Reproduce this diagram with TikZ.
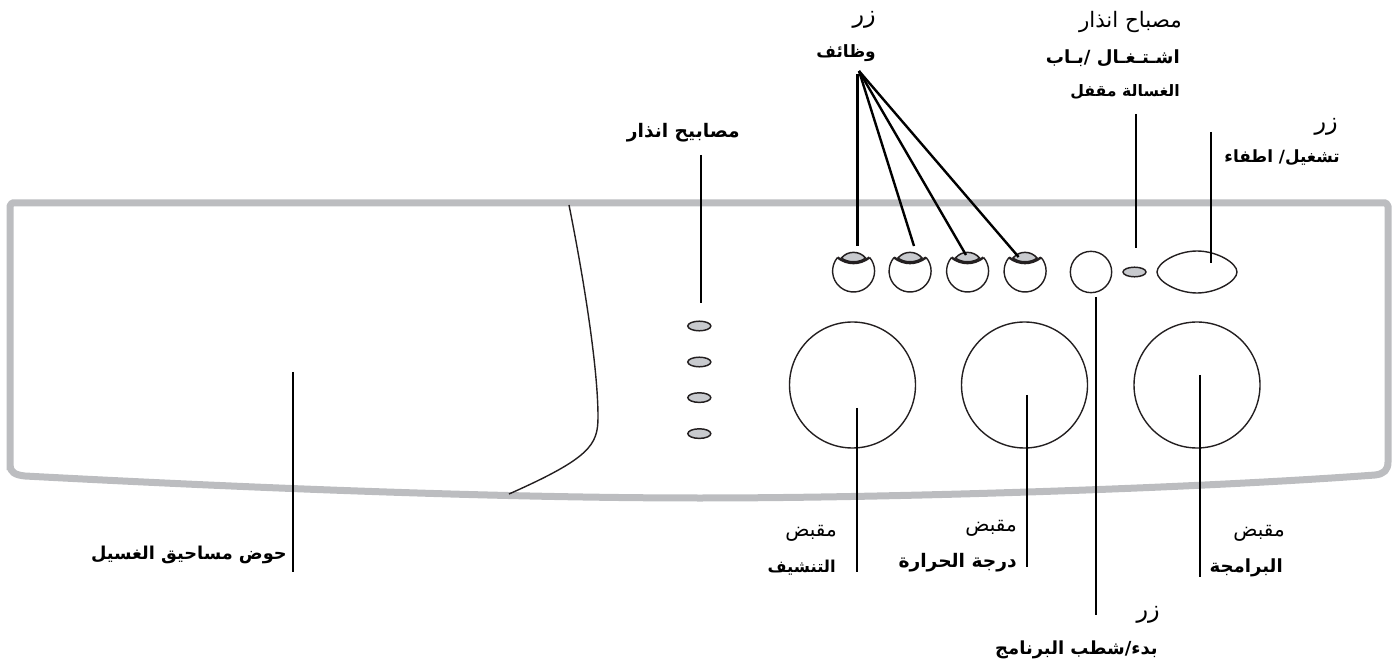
\documentclass[tikz,border=0pt]{standalone}
\usepackage{fontspec}
\TeXXeTstate=1
\newfontfamily\arabicfont[Script=Arabic]{DejaVu Sans}
\newcommand{\fsz}[1]{\fontsize{#1}{#1}\selectfont}
\tikzset{
  panelline/.style={draw=panelgray,line width=5.25pt,line join=round},
  thin outline/.style={draw=inkblack,line width=1.05pt},
  leader/.style={draw=black,line width=1.8pt},
  lamp/.style={draw=inkblack,fill=lampgray,line width=1.1pt},
  plain label/.style={anchor=east,inner sep=0pt,font=\arabicfont\fsz{#1}},
  bold label/.style={anchor=east,inner sep=0pt,font=\arabicfont\bfseries\fsz{#1}},
}
\definecolor{panelgray}{HTML}{BCBDC0}
\definecolor{lampgray}{HTML}{C8CACE}
\definecolor{inkblack}{HTML}{231F20}
\begin{document}
\begin{tikzpicture}[x=0.75pt,y=-0.75pt]
\useasboundingbox (0,0) rectangle (1399,666);
% panel
\draw[panelline] (10,470) -- (10,206) -- (12,203) -- (1386,203) -- (1388,206) -- (1388,462)
  .. controls (1388,470) and (1384,474) .. (1375,475)
  .. controls (1200,488) and (900,498) .. (700,498)
  .. controls (500,498) and (250,488) .. (25,476)
  .. controls (15,475) and (10,472) .. (10,465);
\draw[thin outline] (569,205) .. controls (585,285) and (598,370) .. (598,417)
  .. controls (598,445) and (590,458) .. (509,494);
% warning lamps
\foreach \n/\y in {a/326,b/362,c/397.6,d/433.6}
  \draw[lamp] (699.3,\y) ellipse (11.5 and 4.8);
\coordinate (wl) at (701,303);
% knobs
\node[thin outline,circle,minimum size=94.5pt,inner sep=0pt] (dry) at (852.5,385) {};
\node[thin outline,circle,minimum size=94.5pt,inner sep=0pt] (temp) at (1024.5,385) {};
\node[thin outline,circle,minimum size=94.5pt,inner sep=0pt] (prog) at (1197,385) {};
% function buttons
\foreach \n/\x in {f1/853.5,f2/910,f3/967.5,f4/1025}{
  \draw[thin outline] (\x-16,257.5) arc[start angle=140,end angle=400,radius=15.75pt];
  \coordinate (\n) at (\x,258);
  \draw[lamp] (\x-12,258) .. controls (\x-6,250.5) and (\x+6,250.5) .. (\x+12,258)
     .. controls (\x+6,263) and (\x-6,263) .. cycle;
  \draw[draw=inkblack,line width=1.8pt] (\x-16,257.5) .. controls (\x-6,265) and (\x+6,265) .. (\x+16,257.5);
}
% start button
\node[thin outline,circle,minimum size=31pt,inner sep=0pt] (start) at (1091,272) {};
% door lamp
\draw[lamp] (1134.5,272) ellipse (11.5 and 4.8);
% power button
\draw[thin outline] (1157,272) .. controls (1157,263) and (1177,251) .. (1197,251)
   .. controls (1217,251) and (1237,263) .. (1237,272)
   .. controls (1237,281) and (1217,293) .. (1197,293)
   .. controls (1177,293) and (1157,281) .. (1157,272) -- cycle;
% labels
\node[plain label=18] (l1a) at (876,20) {\beginR زر\endR};
\node[bold label=12.7] (l1b) at (876,53) {\beginR وظائف\endR};
\node[plain label=16] (l2a) at (1182,22) {\beginR مصباح انذار\endR};
\node[bold label=13.6] (l2b) at (1180,58) {\beginR اشـتـغـال /بـاب\endR};
\node[bold label=11.8] (l2c) at (1180,92) {\beginR الغسالة مقفل\endR};
\node[plain label=18] (l3a) at (1338,127) {\beginR زر\endR};
\node[bold label=12.6] (l3b) at (1340,158) {\beginR تشغيل/ اطفاء\endR};
\node[bold label=14] (l4) at (740,133) {\beginR مصابيح انذار\endR};
\node[bold label=13.3] (l5) at (287,555) {\beginR حوض مساحيق الغسيل\endR};
\node[plain label=15] (l6a) at (837,533) {\beginR مقبض\endR};
\node[bold label=12.3] (l6b) at (836,568) {\beginR التنشيف\endR};
\node[plain label=15] (l7a) at (1017,528) {\beginR مقبض\endR};
\node[bold label=14] (l7b) at (1017,563) {\beginR درجة الحرارة\endR};
\node[plain label=15] (l8a) at (1285,533) {\beginR مقبض\endR};
\node[bold label=13.6] (l8b) at (1283,568) {\beginR البرامجة\endR};
\node[plain label=18] (l9a) at (1160,615) {\beginR زر\endR};
\node[bold label=13.5] (l9b) at (1158,650) {\beginR بدء/شطب البرنامج\endR};
% leaders
\coordinate (apex) at (859,71);
\draw[leader] (857.5,74) -- (857.5,246);
\draw[leader] (apex) -- (914,246);
\draw[leader] (apex) -- (966,255);
\draw[leader] (apex) -- (1018.6,257);
\draw[leader] (1136,114) -- (1136,248);
\draw[leader] (1211,132) -- (1211,263);
\draw[leader] (1096,297) -- (1096,615);
\draw[leader] (701,155) -- (wl);
\draw[leader] (293,372) -- (293,572);
\draw[leader] (857,408) -- (857,572);
\draw[leader] (1027,395) -- (1027,567);
\draw[leader] (1200,375) -- (1200,577);
\end{tikzpicture}
\end{document}
